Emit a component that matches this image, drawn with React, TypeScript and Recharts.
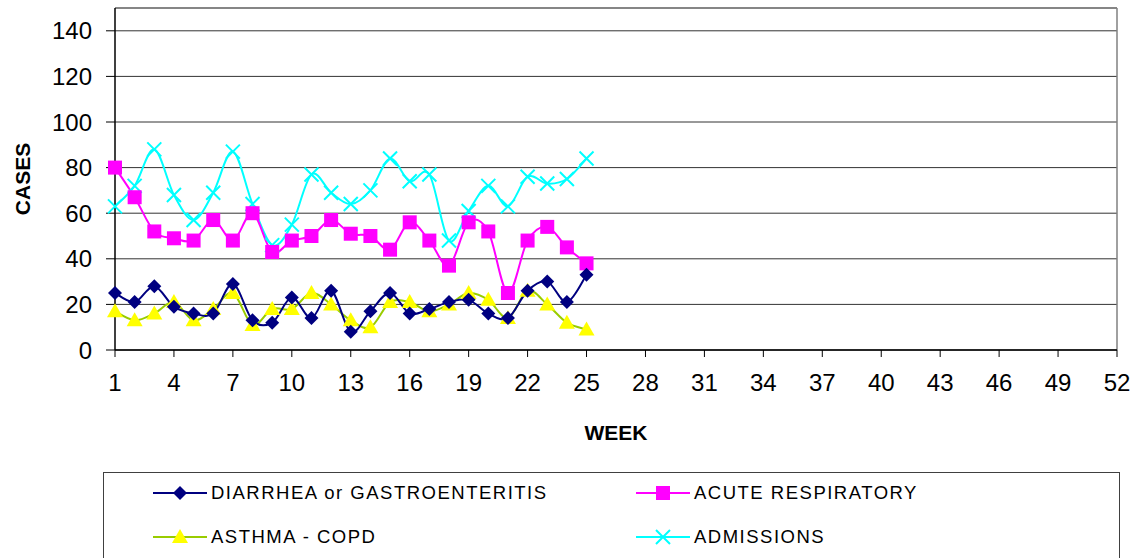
import { LineChart, Line, XAxis, YAxis, CartesianGrid, Legend, ReferenceLine } from "recharts";

const weeks = [1, 2, 3, 4, 5, 6, 7, 8, 9, 10, 11, 12, 13, 14, 15, 16, 17, 18, 19, 20, 21, 22, 23, 24, 25];
const diarrhea = [25, 21, 28, 19, 16, 16, 29, 13, 12, 23, 14, 26, 8, 17, 25, 16, 18, 21, 22, 16, 14, 26, 30, 21, 33];
const acuteResp = [80, 67, 52, 49, 48, 57, 48, 60, 43, 48, 50, 57, 51, 50, 44, 56, 48, 37, 56, 52, 25, 48, 54, 45, 38];
const asthma = [17, 13, 16, 21, 13, 18, 25, 11, 18, 18, 25, 20, 13, 10, 21, 21, 17, 20, 25, 22, 14, 26, 20, 12, 9];
const admissions = [63, 72, 88, 68, 57, 69, 87, 64, 46, 55, 77, 69, 64, 70, 84, 74, 77, 48, 61, 72, 63, 76, 73, 75, 84];

const yTicks = [0, 20, 40, 60, 80, 100, 120, 140];
const xTicks = [1, 4, 7, 10, 13, 16, 19, 22, 25, 28, 31, 34, 37, 40, 43, 46, 49, 52];

const data = weeks.map((w, i) => ({
  week: w,
  diarrhea: diarrhea[i],
  acuteResp: acuteResp[i],
  asthma: asthma[i],
  admissions: admissions[i],
}));

const font = "'Liberation Sans', Arial, sans-serif";

// smooth line roughly like the spreadsheet "smoothed line" option
const smoothCurve = (context: any) => {
  let pts: number[][] = [];
  return {
    areaStart() {},
    areaEnd() {},
    lineStart() {
      pts = [];
    },
    lineEnd() {
      if (!pts.length) return;
      context.moveTo(pts[0][0], pts[0][1]);
      const t = 1 / 6;
      for (let i = 0; i < pts.length - 1; i++) {
        const p0 = pts[i - 1] || pts[i];
        const p1 = pts[i];
        const p2 = pts[i + 1];
        const p3 = pts[i + 2] || p2;
        context.bezierCurveTo(
          p1[0] + (p2[0] - p0[0]) * t,
          p1[1] + (p2[1] - p0[1]) * t,
          p2[0] - (p3[0] - p1[0]) * t,
          p2[1] - (p3[1] - p1[1]) * t,
          p2[0],
          p2[1]
        );
      }
    },
    point(x: number, y: number) {
      pts.push([+x, +y]);
    },
  };
};

const Diamond = ({ cx, cy, index }: any) => (
  <polygon key={"d" + index} points={`${cx},${cy - 7} ${cx + 7},${cy} ${cx},${cy + 7} ${cx - 7},${cy}`} fill="#000080" />
);
const Square = ({ cx, cy, index }: any) => (
  <rect key={"s" + index} x={cx - 7} y={cy - 7} width={14} height={14} fill="#FF00FF" />
);
const Triangle = ({ cx, cy, index }: any) => (
  <polygon key={"t" + index} points={`${cx},${cy - 8} ${cx + 8},${cy + 6} ${cx - 8},${cy + 6}`} fill="#FFFF00" />
);
const Cross = ({ cx, cy, index }: any) => (
  <path key={"x" + index} d={`M${cx - 7},${cy - 7}L${cx + 7},${cy + 7}M${cx - 7},${cy + 7}L${cx + 7},${cy - 7}`} stroke="#00FFFF" strokeWidth={2} />
);

const legendItems = [
  { name: "DIARRHEA or GASTROENTERITIS", color: "#000080", Marker: Diamond, left: 49, top: 20 },
  { name: "ACUTE RESPIRATORY", color: "#FF00FF", Marker: Square, left: 532, top: 20 },
  { name: "ASTHMA - COPD", color: "#99CC00", Marker: Triangle, left: 49, top: 64 },
  { name: "ADMISSIONS", color: "#00FFFF", Marker: Cross, left: 532, top: 64 },
];

const LegendBox = () => (
  <div
    style={{
      position: "relative",
      width: 1017,
      height: 100,
      border: "1px solid #404040",
      boxSizing: "border-box",
      background: "#fff",
      fontFamily: font,
    }}
  >
    {legendItems.map((it) => (
      <div key={it.name} style={{ position: "absolute", left: it.left, top: it.top - 11, height: 22, display: "flex", alignItems: "center" }}>
        <svg width={54} height={22}>
          <line x1={0} y1={11} x2={54} y2={11} stroke={it.color} strokeWidth={2} />
          <it.Marker cx={27} cy={11} index={0} />
        </svg>
        <span style={{ fontSize: 18.5, letterSpacing: 1.5, marginLeft: 4, color: "#000" }}>{it.name}</span>
      </div>
    ))}
  </div>
);

const CasesLabel = (props: any) => {
  const vb = props.viewBox || {};
  const cx = 22;
  const cy = (vb.y ?? 8) + (vb.height ?? 342) / 2;
  return (
    <text x={cx} y={cy} transform={`rotate(-90 ${cx} ${cy})`} textAnchor="middle" dominantBaseline="central" fill="#000" fontSize={21} fontWeight="bold" fontFamily={font}>
      CASES
    </text>
  );
};

export default function App() {
  return (
    <div style={{ position: "absolute", left: 0, top: 0, width: 1137, height: 558, background: "#fff", overflow: "hidden" }}>
      <LineChart width={1137} height={558} data={data} margin={{ top: 8, right: 20, left: 0, bottom: 148 }}>
        <CartesianGrid horizontal vertical={false} stroke="#333" />
        <ReferenceLine y={150} stroke="#808080" strokeWidth={1.5} />
        <ReferenceLine x={52} stroke="#808080" strokeWidth={1.5} />
        <XAxis
          dataKey="week"
          type="number"
          domain={[1, 52]}
          ticks={xTicks}
          interval={0}
          height={60}
          tickSize={7}
          tickMargin={17}
          axisLine={{ stroke: "#000", strokeWidth: 1.5 }}
          tickLine={{ stroke: "#000" }}
          tick={{ fill: "#000", fontSize: 24, fontFamily: font }}
          label={{ value: "WEEK", position: "insideBottom", offset: -30, fill: "#000", fontSize: 21, fontWeight: "bold", fontFamily: font }}
        />
        <YAxis
          type="number"
          domain={[0, 150]}
          ticks={yTicks}
          interval={0}
          width={115}
          tickSize={9}
          tickMargin={14}
          axisLine={{ stroke: "#000", strokeWidth: 1.5 }}
          tickLine={{ stroke: "#000" }}
          tick={{ fill: "#000", fontSize: 24, fontFamily: font }}
          label={{ position: "insideLeft", content: CasesLabel }}
        />
        <Legend
          layout="horizontal"
          verticalAlign="middle"
          align="center"
          wrapperStyle={{ top: 472, left: 103, width: 1017, height: 100 }}
          content={() => <LegendBox />}
        />
        <Line dataKey="admissions" name="ADMISSIONS" type={smoothCurve as any} stroke="#00FFFF" strokeWidth={2} dot={Cross} activeDot={false} isAnimationActive={false} />
        <Line dataKey="acuteResp" name="ACUTE RESPIRATORY" type={smoothCurve as any} stroke="#FF00FF" strokeWidth={2} dot={Square} activeDot={false} isAnimationActive={false} />
        <Line dataKey="asthma" name="ASTHMA - COPD" type={smoothCurve as any} stroke="#99CC00" strokeWidth={2} dot={Triangle} activeDot={false} isAnimationActive={false} />
        <Line dataKey="diarrhea" name="DIARRHEA or GASTROENTERITIS" type={smoothCurve as any} stroke="#000080" strokeWidth={2} dot={Diamond} activeDot={false} isAnimationActive={false} />
      </LineChart>
    </div>
  );
}
